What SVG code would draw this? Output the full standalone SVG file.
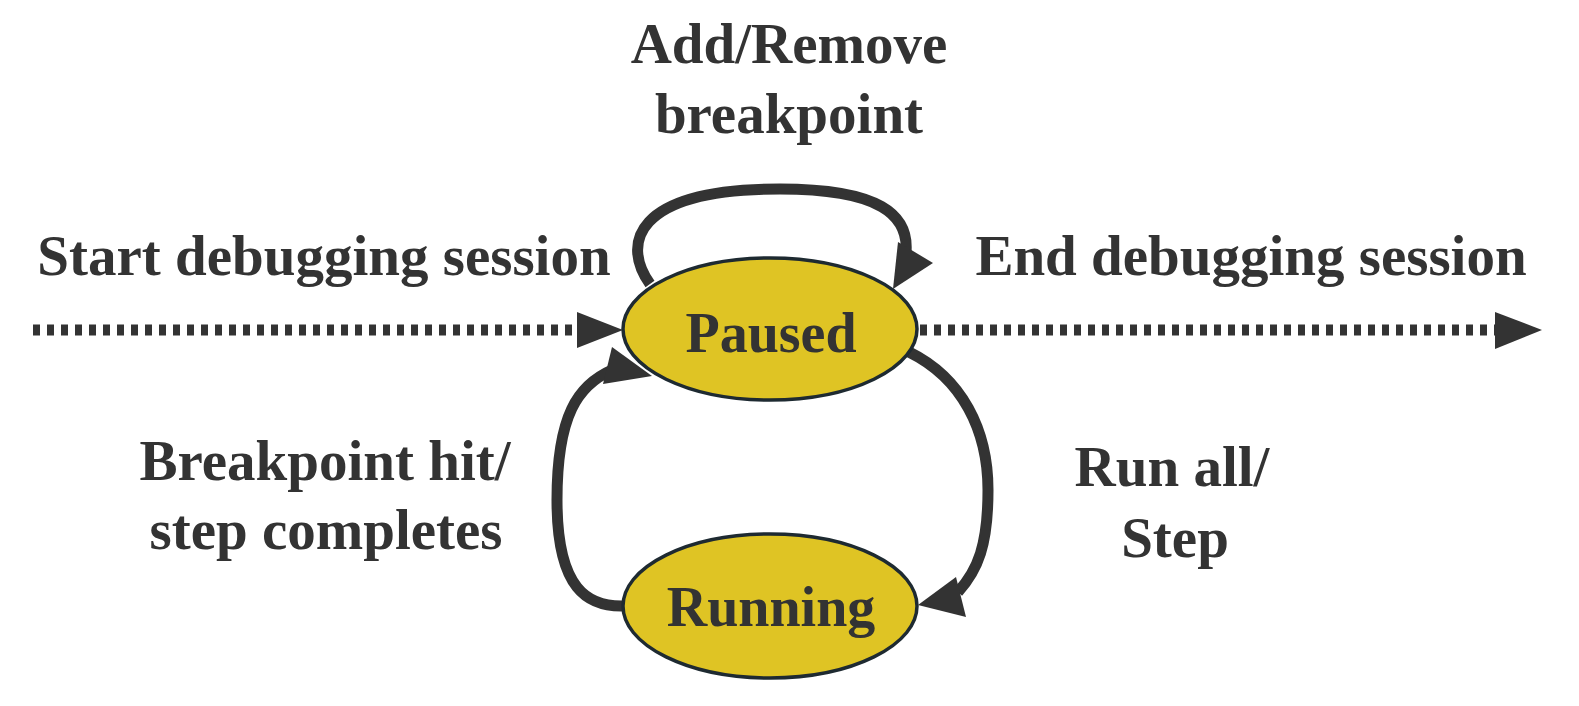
<svg xmlns="http://www.w3.org/2000/svg" width="1579" height="706" viewBox="0 0 1579 706">
<style>
.lbl{font-family:"Liberation Serif","Times New Roman",serif;font-weight:bold;font-size:57px;fill:#333333;text-anchor:middle}
.ntx{font-family:"Liberation Serif","Times New Roman",serif;font-weight:bold;font-size:56px;fill:#333333;text-anchor:middle}
.node{fill:#dfc424;stroke:#1e2a31;stroke-width:3.5}
.edge{fill:none;stroke:#333333;stroke-width:11}
.dot{fill:none;stroke:#333333;stroke-width:11;stroke-dasharray:7 7}
.head{fill:#333333}
</style>
<rect width="1579" height="706" fill="#ffffff"/>
<g id="connectors">
  <path class="dot" d="M33 330 H580"/>
  <polygon class="head" points="577,312 623,330 577,348"/>
  <path class="dot" d="M920 330 H1497"/>
  <polygon class="head" points="1495,312 1542,330 1495,349"/>
  <path class="edge" d="M650 284 C 622 245, 632 189, 780 189 C 880 189, 909 215, 906 252"/>
  <polygon class="head" points="898,242 933,263 893,289"/>
  <path class="edge" d="M909 352 C 962 378, 988 430, 988 490 C 988 545, 978 570, 958 592"/>
  <polygon class="head" points="956,577 966,617 918,605"/>
  <path class="edge" d="M624 606 C 588 607, 557 590, 557 500 C 557 415, 578 385, 612 370"/>
  <polygon class="head" points="612,347 603,384 652,376"/>
</g>
<g id="label-start"><text class="lbl" x="324" y="275">Start debugging session</text></g>
<g id="label-end"><text class="lbl" x="1251" y="275">End debugging session</text></g>
<g id="label-loop"><text class="lbl" x="789" y="63">Add/Remove</text><text class="lbl" x="789" y="133">breakpoint</text></g>
<g id="label-break"><text class="lbl" x="325" y="480">Breakpoint hit/</text><text class="lbl" x="326" y="549">step completes</text></g>
<g id="label-run"><text class="lbl" x="1172" y="486">Run all/</text><text class="lbl" x="1175" y="557">Step</text></g>
<g id="paused"><ellipse class="node" cx="770" cy="329" rx="147" ry="71"/><text class="ntx" x="771" y="352">Paused</text></g>
<g id="running"><ellipse class="node" cx="770" cy="606" rx="147" ry="72"/><text class="ntx" x="771" y="626">Running</text></g>
</svg>
